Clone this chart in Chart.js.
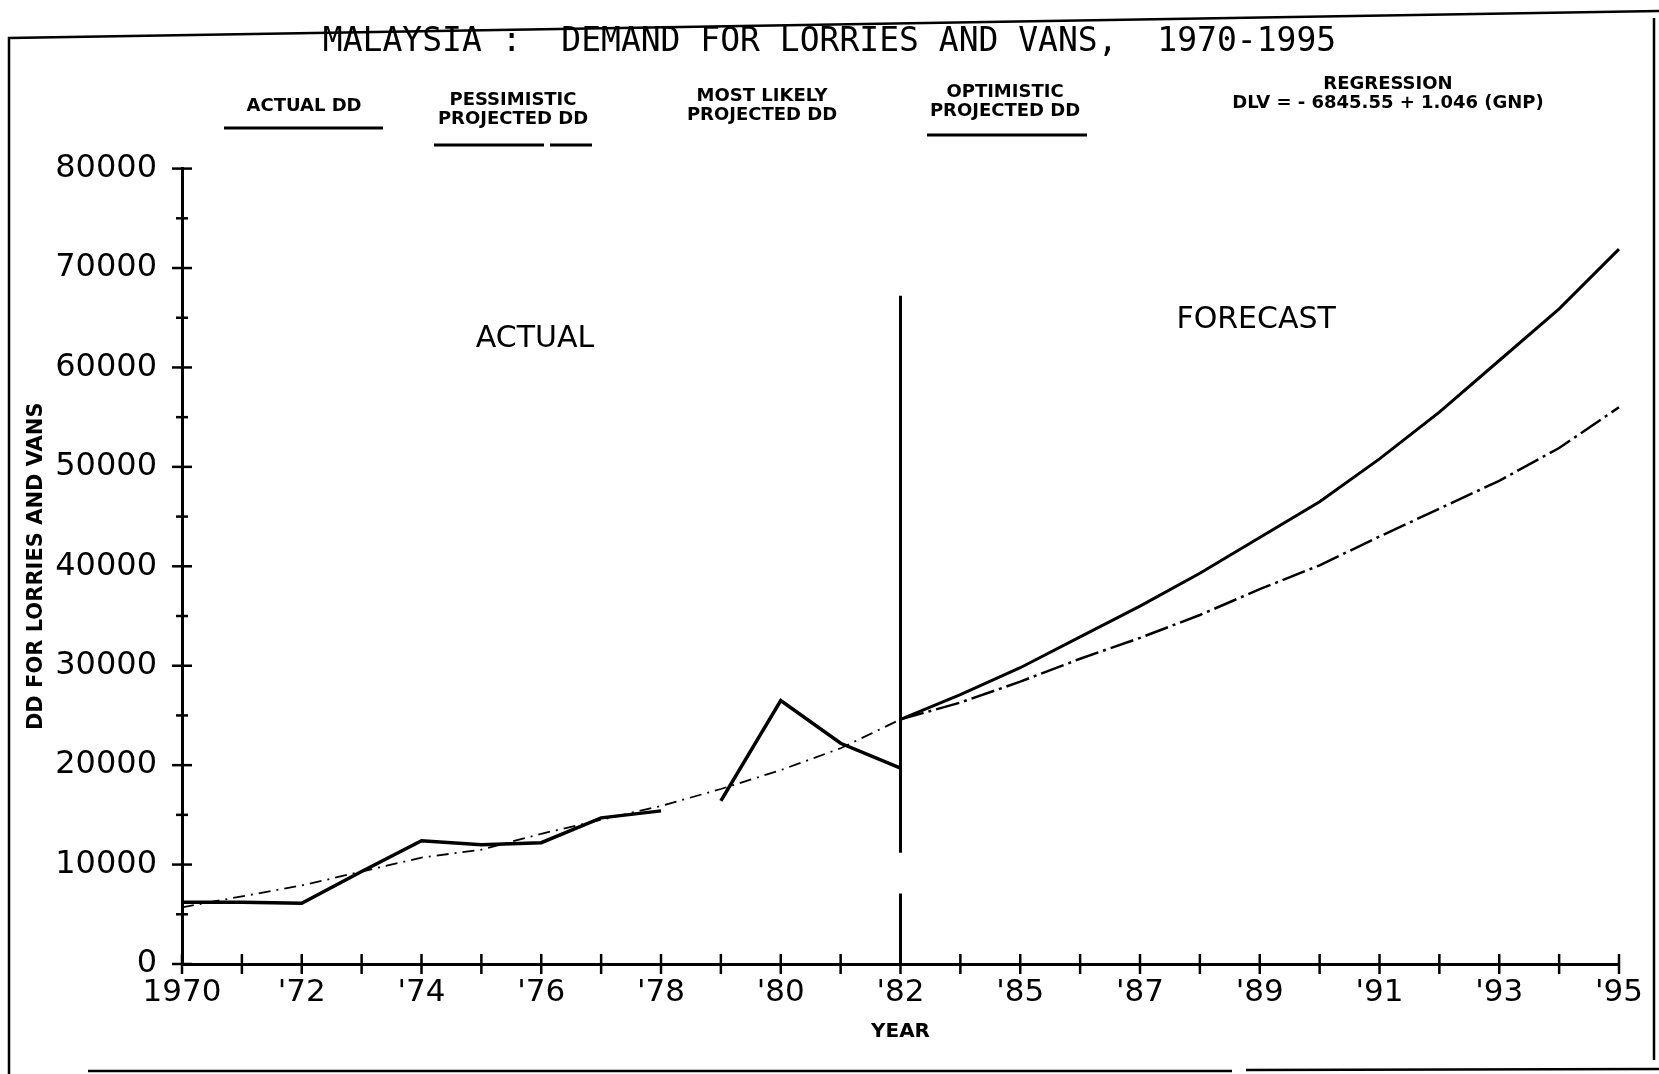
<!DOCTYPE html>
<html>
<head>
<meta charset="utf-8">
<script src="https://cdn.jsdelivr.net/npm/chart.js@4.4.1/dist/chart.umd.min.js"></script>
<style>
html,body{margin:0;padding:0;background:#fff;overflow:hidden}
#wrap{position:relative;width:1659px;height:1074px}
</style>
</head>
<body>
<div id="wrap"><canvas id="c" width="1659" height="1074"></canvas></div>
<script>
// ---- data ----
const years = ['1970','1971','1972','1973','1974','1975','1976','1977','1978','1979','1980','1981','1982',
               '1983','1985','1986','1987','1988','1989','1990','1991','1992','1993','1994','1995'];
const tickLabels = ['1970','',"'72",'',"'74",'',"'76",'',"'78",'',"'80",'',"'82",
                    '',"'85",'',"'87",'',"'89",'',"'91",'',"'93",'',"'95"];
const actualDD = [6200,6200,6100,9300,12400,12000,12200,14700,15400,16400,26500,22200,19700,
                  null,null,null,null,null,null,null,null,null,null,null,null];
const regressionFit = [5700,6800,7900,9300,10700,11500,13100,14500,15900,17600,19500,21700,24600,
                  null,null,null,null,null,null,null,null,null,null,null,null];
const pessimisticDD = [null,null,null,null,null,null,null,null,null,null,null,null,
                  24600,26300,28400,30700,32800,35100,37700,40100,43000,45800,48600,51900,56000];
const optimisticDD = [null,null,null,null,null,null,null,null,null,null,null,null,
                  24600,27100,29800,32900,36000,39300,42900,46500,50800,55500,60700,65900,71900];
const dividerYear = '1982';
const dividerLower = [0, 7100];
const dividerUpper = [11200, 67200];
const yMin = 0, yMax = 80000, yStep = 5000, yLabelStep = 10000;

const titleText = 'MALAYSIA :  DEMAND FOR LORRIES AND VANS,  1970-1995';
const legendItems = [
  {lines:['ACTUAL DD'], cx:304, y:106, sample:{x0:224,x1:383,y:128,dash:[]}},
  {lines:['PESSIMISTIC','PROJECTED DD'], cx:513, y:100, sample:{x0:434,x1:592,y:145,dash:[110,6]}},
  {lines:['MOST LIKELY','PROJECTED DD'], cx:762, y:96, sample:null},
  {lines:['OPTIMISTIC','PROJECTED DD'], cx:1005, y:92, sample:{x0:927,x1:1087,y:135,dash:[]}},
  {lines:['REGRESSION','DLV = - 6845.55 + 1.046 (GNP)'], cx:1388, y:84, sample:null}
];

const dividerData = [
  {x:dividerYear, y:dividerLower[0]}, {x:dividerYear, y:dividerLower[1]},
  {x:dividerYear, y:null},
  {x:dividerYear, y:dividerUpper[0]}, {x:dividerYear, y:dividerUpper[1]}
];

const decor = {
  id:'decor',
  beforeDraw(chart){
    const ctx = chart.ctx;
    ctx.save();
    ctx.fillStyle='#fff'; ctx.fillRect(0,0,chart.width,chart.height);
    ctx.strokeStyle='#000'; ctx.lineWidth=2.5;
    ctx.beginPath();
    ctx.moveTo(9,1074); ctx.lineTo(9,38); ctx.lineTo(1659,11);
    ctx.moveTo(1654,18); ctx.lineTo(1654,1060);
    ctx.moveTo(88,1071); ctx.lineTo(1232,1071);
    ctx.moveTo(1246,1070); ctx.lineTo(1659,1069);
    ctx.stroke();
    ctx.restore();
  },
  afterDraw(chart){
    const ctx = chart.ctx, xs = chart.scales.x, ys = chart.scales.y;
    ctx.save();
    ctx.strokeStyle='#000'; ctx.lineWidth=2.5;
    // crossing ticks on x axis
    xs.ticks.forEach((t,i)=>{
      const px = xs.getPixelForTick(i);
      ctx.beginPath(); ctx.moveTo(px, ys.bottom-10); ctx.lineTo(px, ys.bottom+10); ctx.stroke();
    });
    ys.ticks.forEach((t,i)=>{
      const py = ys.getPixelForTick(i);
      const L = (t.value % yLabelStep === 0) ? 10 : 6;
      ctx.beginPath(); ctx.moveTo(xs.left-L, py); ctx.lineTo(xs.left+L, py); ctx.stroke();
    });
    // legend
    ctx.fillStyle='#000';
    ctx.textAlign='center'; ctx.textBaseline='middle';
    ctx.font='bold 18px "DejaVu Sans", sans-serif';
    legendItems.forEach(it=>{
      it.lines.forEach((ln,k)=>ctx.fillText(ln, it.cx, it.y + k*19));
      if(it.sample){
        ctx.setLineDash(it.sample.dash); ctx.lineWidth=3;
        ctx.beginPath(); ctx.moveTo(it.sample.x0,it.sample.y); ctx.lineTo(it.sample.x1,it.sample.y); ctx.stroke();
        ctx.setLineDash([]);
      }
    });
    // region annotations
    ctx.font='30px "DejaVu Sans", sans-serif';
    ctx.fillText('ACTUAL', xs.left + (xs.right-xs.left)*0.2456, ys.top + (ys.bottom-ys.top)*0.214);
    ctx.fillText('FORECAST', xs.left + (xs.right-xs.left)*0.7475, ys.top + (ys.bottom-ys.top)*0.190);
    ctx.restore();
  }
};

new Chart(document.getElementById('c'), {
  type:'line',
  data:{
    labels: years,
    datasets:[
      {label:'ACTUAL DD', data:actualDD, borderColor:'#000', borderWidth:3.5, pointRadius:0, spanGaps:false,
       segment:{borderColor: c => c.p0DataIndex === 8 ? 'rgba(0,0,0,0)' : '#000'}},
      {label:'REGRESSION', data:regressionFit, borderColor:'#000', borderWidth:1.8, pointRadius:0, borderDash:[12,6,2,6]},
      {label:'PESSIMISTIC PROJECTED DD', data:pessimisticDD, borderColor:'#000', borderWidth:2.5, pointRadius:0, borderDash:[24,5,3,5]},
      {label:'OPTIMISTIC PROJECTED DD', data:optimisticDD, borderColor:'#000', borderWidth:3, pointRadius:0},
      {label:'divider', data:dividerData, borderColor:'#000', borderWidth:3, pointRadius:0, spanGaps:false}
    ]
  },
  options:{
    responsive:false, animation:false, devicePixelRatio:1,
    layout:{padding:{left:0, right:0, top:0, bottom:0}},
    plugins:{
      legend:{display:false},
      tooltip:{enabled:false},
      title:{display:true, text:titleText, color:'#000',
        font:{family:'"DejaVu Sans Mono", monospace', size:33, weight:'normal'},
        padding:{top:23, bottom:106}}
    },
    scales:{
      x:{type:'category', offset:false,
        grid:{display:false, drawTicks:false},
        border:{display:true, color:'#000', width:3},
        ticks:{autoSkip:false, maxRotation:0, minRotation:0, color:'#000', padding:10,
          font:{family:'"DejaVu Sans", sans-serif', size:31},
          callback:(v,i)=>tickLabels[i]},
        title:{display:true, text:'YEAR', color:'#000',
          font:{family:'"DejaVu Sans", sans-serif', size:20, weight:'bold'},
          padding:{top:0,bottom:30}},
        afterFit:(s)=>{s.height = 110;}
      },
      y:{min:yMin, max:yMax,
        grid:{display:false, drawTicks:false},
        border:{display:true, color:'#000', width:3},
        ticks:{stepSize:yStep, color:'#000', padding:25,
          font:{family:'"DejaVu Sans", sans-serif', size:32},
          callback:(v)=> (v % yLabelStep === 0) ? String(v) : ''},
        title:{display:true, text:'DD FOR LORRIES AND VANS', color:'#000',
          font:{family:'"DejaVu Sans", sans-serif', size:21, weight:'bold'},
          padding:{top:24,bottom:0}},
        afterFit:(s)=>{s.width = 182;}
      },
      yRight:{position:'right', min:yMin, max:yMax, display:true,
        grid:{display:false, drawTicks:false},
        border:{display:false},
        ticks:{display:false},
        afterFit:(s)=>{s.width = 40;}
      }
    }
  },
  plugins:[decor]
});
</script>
</body>
</html>
